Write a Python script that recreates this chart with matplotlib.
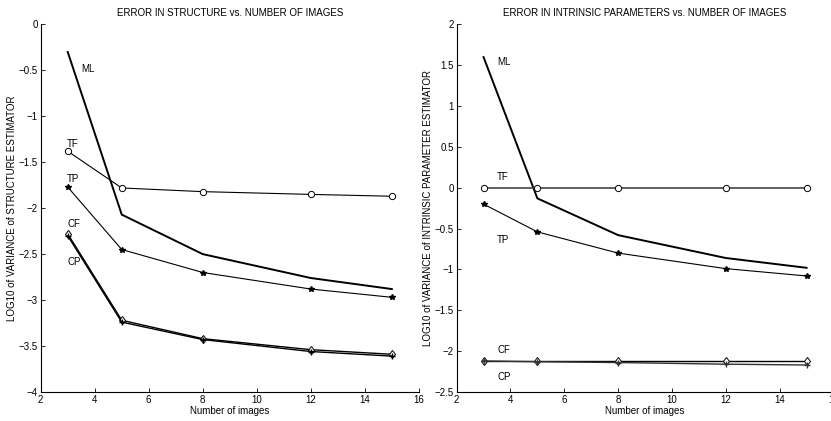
import numpy as np
import matplotlib
matplotlib.use("Agg")
import matplotlib.pyplot as plt

plt.rcParams['font.family'] = ['Liberation Sans Narrow', 'Liberation Sans', 'DejaVu Sans']
plt.rcParams['font.size'] = 7

n_images = [3, 5, 8, 12, 15]

# structure error (left)
s_ml = [-0.30, -2.07, -2.50, -2.76, -2.88]
s_tf = [-1.38, -1.78, -1.82, -1.85, -1.87]
s_tp = [-1.77, -2.45, -2.70, -2.88, -2.97]
s_cf = [-2.28, -3.22, -3.42, -3.54, -3.59]
s_cp = [-2.30, -3.24, -3.43, -3.56, -3.61]

# intrinsic parameter error (right)
i_ml = [1.60, -0.13, -0.58, -0.86, -0.98]
i_tf = [0.0, 0.0, 0.0, 0.0, 0.0]
i_tp = [-0.20, -0.54, -0.80, -0.99, -1.08]
i_cf = [-2.12, -2.12, -2.12, -2.12, -2.12]
i_cp = [-2.12, -2.13, -2.14, -2.16, -2.17]

fig = plt.figure(figsize=(8.31, 4.21), dpi=100)
ax1 = fig.add_axes([0.049, 0.069, 0.455, 0.873])
ax2 = fig.add_axes([0.5495, 0.069, 0.4535, 0.873])


def style(ax):
    ax.spines['top'].set_visible(False)
    ax.spines['right'].set_visible(False)
    ax.tick_params(direction='in', length=3, width=0.6, labelsize=7, pad=2)
    for s in ['left', 'bottom']:
        ax.spines[s].set_linewidth(0.8)
    ax.set_xlim(2, 16)
    ax.set_xlabel('Number of images', fontsize=7, labelpad=1)


hollow = dict(markerfacecolor='white', markeredgecolor='black', markersize=4.5, markeredgewidth=0.7)

# left
ax1.plot(n_images, s_ml, color='black', lw=1.4)
ax1.plot(n_images, s_tf, color='black', lw=0.8, marker='o', **hollow)
ax1.plot(n_images, s_tp, color='black', lw=0.8, marker='*', markersize=4)
ax1.plot(n_images, s_cf, color='black', lw=1.0, marker='d', **hollow)
ax1.plot(n_images, s_cp, color='black', lw=1.0, marker='+', markersize=5)
ax1.set_ylim(-4, 0)
ax1.set_xticks([2, 4, 6, 8, 10, 12, 14, 16])
ax1.set_yticks([-4, -3.5, -3, -2.5, -2, -1.5, -1, -0.5, 0])
ax1.set_yticklabels(['\u22124', '\u22123.5', '\u22123', '\u22122.5', '\u22122', '\u22121.5', '\u22121', '\u22120.5', '0'])
style(ax1)
ax1.set_title('ERROR IN STRUCTURE vs. NUMBER OF IMAGES', fontsize=7, pad=6)
ax1.set_ylabel('LOG10 of VARIANCE of STRUCTURE ESTIMATOR', fontsize=7)
ax1.yaxis.set_label_coords(-0.064, 0.5)
ax1.text(3.5, -0.52, 'ML', fontsize=7)
ax1.text(2.95, -1.33, 'TF', fontsize=7)
ax1.text(2.95, -1.72, 'TP', fontsize=7)
ax1.text(3.0, -2.2, 'CF', fontsize=7)
ax1.text(3.0, -2.62, 'CP', fontsize=7)

# right
ax2.plot(n_images, i_ml, color='black', lw=1.4)
ax2.plot(n_images, i_tf, color='#444444', lw=1.2, marker='o', **hollow)
ax2.plot(n_images, i_tp, color='black', lw=0.8, marker='*', markersize=4)
ax2.plot(n_images, i_cf, color='black', lw=1.0, marker='d', **hollow)
ax2.plot(n_images, i_cp, color='#333333', lw=1.0, marker='+', markersize=5)
ax2.set_ylim(-2.5, 2)
ax2.set_xticks([2, 4, 6, 8, 10, 12, 14, 16])
ax2.set_yticks([-2.5, -2, -1.5, -1, -0.5, 0, 0.5, 1, 1.5, 2])
ax2.set_yticklabels(['\u22122.5', '\u22122', '\u22121.5', '\u22121', '\u22120.5', '0', '0.5', '1', '1.5', '2'])
style(ax2)
ax2.set_title('ERROR IN INTRINSIC PARAMETERS vs. NUMBER OF IMAGES', fontsize=7, pad=6)
ax2.set_ylabel('LOG10 of VARIANCE of INTRINSIC PARAMETER ESTIMATOR', fontsize=7)
ax2.yaxis.set_label_coords(-0.062, 0.5)
ax2.text(3.5, 1.5, 'ML', fontsize=7)
ax2.text(3.5, 0.1, 'TF', fontsize=7)
ax2.text(3.5, -0.68, 'TP', fontsize=7)
ax2.text(3.5, -2.02, 'CF', fontsize=7)
ax2.text(3.5, -2.35, 'CP', fontsize=7)

fig.savefig('out.png', dpi=100)
